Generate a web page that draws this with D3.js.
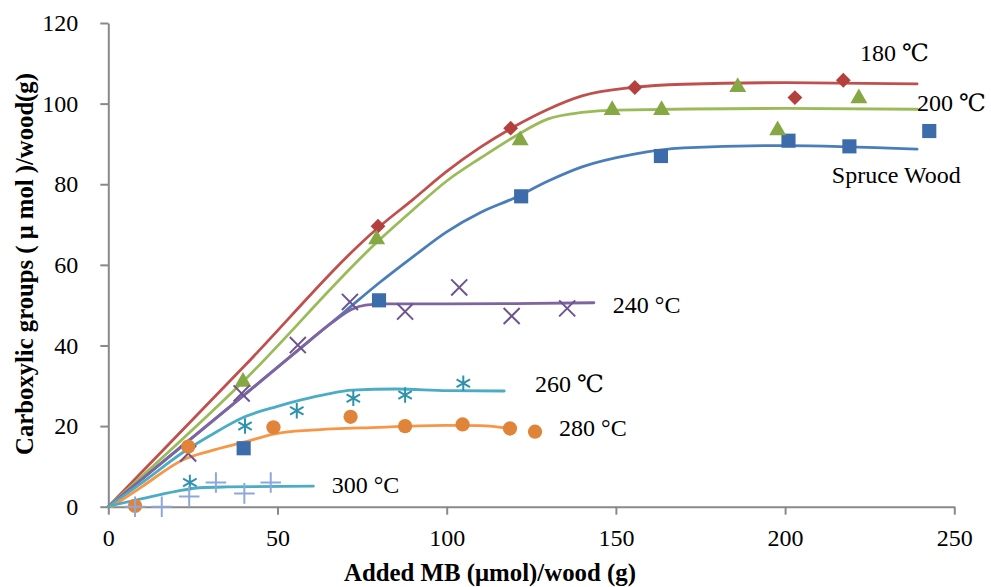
<!DOCTYPE html>
<html>
<head>
<meta charset="utf-8">
<script src="https://cdn.jsdelivr.net/npm/d3@7"></script>
<style>
  html, body { margin: 0; padding: 0; background: #fff; }
  svg { display: block; }
  text { font-family: "Liberation Serif", "DejaVu Serif", serif; fill: #000; }
</style>
</head>
<body>
<svg id="chart" width="991" height="587"></svg>
<script>
// Axis ticks
const xTicks = [0, 50, 100, 150, 200, 250];
const yTicks = [0, 20, 40, 60, 80, 100, 120];

// Measured points: added MB (µmol/g wood) vs carboxylic groups (µmol/g wood)
const spruceMB    = [40, 80, 122, 163.3, 201, 219, 242.6];
const spruceCOOH  = [14.5, 51.2, 77.0, 87.0, 90.8, 89.4, 93.2];
const t180MB      = [79.7, 118.9, 155.6, 202.9, 217.2];
const t180COOH    = [69.6, 93.9, 104.0, 101.5, 105.8];
const t200MB      = [39.8, 79.3, 121.7, 148.9, 163.5, 186, 197.8, 221.8];
const t200COOH    = [31.0, 66.3, 90.9, 98.4, 98.4, 104.1, 93.4, 101.3];
const t240MB      = [23.6, 39.4, 56, 71.4, 87.7, 103.7, 119.2, 135.6];
const t240COOH    = [13.2, 28.1, 40.1, 50.8, 48.4, 54.4, 47.3, 49.2];
const t260MB      = [24.1, 40.4, 55.7, 72.4, 87.7, 104.9];
const t260COOH    = [6.0, 20.0, 23.8, 26.9, 27.7, 30.6];
const t280MB      = [7.9, 23.6, 48.8, 71.6, 87.7, 104.7, 118.7, 126.1];
const t280COOH    = [0.2, 14.9, 19.7, 22.3, 20.0, 20.4, 19.4, 18.6];
const t300MB      = [7.9, 15.8, 23.9, 31.8, 40.2, 48];
const t300COOH    = [0, 0, 2.5, 6.0, 3.3, 6.0];

// Fitted trend curves
const spruceFitMB   = [0, 40, 70, 80, 90, 100, 110, 120, 130, 140, 155, 170, 200, 239];
const spruceFitCOOH = [0, 27.6, 48.5, 55.5, 62, 68.2, 73, 76.6, 80.8, 84.3, 87.4, 89, 89.6, 88.7];
const t180FitMB     = [0, 40, 80, 90, 100, 110, 120, 130, 140, 155, 170, 200, 239];
const t180FitCOOH   = [0, 34.7, 69.4, 76.2, 83.2, 89.2, 94.3, 98.6, 101.9, 104, 104.8, 105.2, 104.9];
const t200FitMB     = [0, 40, 80, 90, 100, 110, 120, 130, 140, 150, 200, 239];
const t200FitCOOH   = [0, 31.2, 66.1, 73.6, 80.8, 86.5, 91.8, 96.2, 97.8, 98.4, 98.8, 98.6];
const t240FitMB     = [0, 20, 40, 56, 66, 72, 76, 82, 100, 120, 143.5];
const t240FitCOOH   = [0, 13.8, 27.6, 38.8, 45.6, 49, 50, 50.3, 50.3, 50.4, 50.6];
const t260FitMB     = [0, 10, 23, 30, 40, 50, 57, 65, 72, 85, 100, 117];
const t260FitCOOH   = [0, 6, 14, 17.6, 22.2, 24.9, 26.5, 28, 28.9, 29.2, 28.8, 28.7];
const t280FitMB     = [1, 10, 22, 30, 40, 50, 60, 80, 100, 110, 118.7];
const t280FitCOOH   = [0, 5, 11.6, 13.8, 16, 18.2, 19, 19.7, 20.2, 20.1, 19.4];
const t300FitMB     = [1, 10, 20, 27, 35, 60.6];
const t300FitCOOH   = [0.3, 2, 3.8, 4.7, 4.9, 5.1];

// Curve labels and their anchor points in data units
const labelText = ["180 \u2103", "200 \u2103", "Spruce Wood", "240 \u00B0C", "260 \u2103", "280 \u00B0C", "300 \u00B0C"];
const labelMB   = [222.1, 239.0, 213.8, 149.1, 126.1, 133.2, 66.0];
const labelCOOH = [110.5, 98.1, 80.3, 48.0, 28.5, 17.6, 3.5];

const svg = d3.select("#chart");
const x = d3.scaleLinear().domain([0, 250]).range([108.3, 954.3]);
const y = d3.scaleLinear().domain([0, 120]).range([506.7, 23]);

const axisColor = "#898989";

// Axes
const gx = svg.append("g").attr("transform", `translate(0,${y(0)})`)
  .call(d3.axisBottom(x).tickValues(xTicks).tickSize(8).tickSizeOuter(0).tickPadding(14));
const gy = svg.append("g").attr("transform", `translate(${x(0)},0)`)
  .call(d3.axisLeft(y).tickValues(yTicks).tickSize(8).tickSizeOuter(0).tickPadding(22));
[gx, gy].forEach(g => {
  g.attr("font-family", null);
  g.select(".domain").attr("stroke", axisColor).attr("stroke-width", 2);
  g.selectAll(".tick line").attr("stroke", axisColor).attr("stroke-width", 2);
  g.selectAll(".tick text").attr("font-size", 24).attr("fill", "#000");
});
gx.selectAll(".tick text").attr("dy", "0.71em");

// Series definitions
const series = [
  { fx: spruceFitMB, fy: spruceFitCOOH, px: spruceMB, py: spruceCOOH, line: "#4a7ebb", mark: "#3d6cab", sym: "square" },
  { fx: t180FitMB,   fy: t180FitCOOH,   px: t180MB,   py: t180COOH,   line: "#c0504d", mark: "#b4403d", sym: "diamond" },
  { fx: t200FitMB,   fy: t200FitCOOH,   px: t200MB,   py: t200COOH,   line: "#9bbb59", mark: "#86a844", sym: "triangle" },
  { fx: t240FitMB,   fy: t240FitCOOH,   px: t240MB,   py: t240COOH,   line: "#8064a2", mark: "#6d5391", sym: "x" },
  { fx: t260FitMB,   fy: t260FitCOOH,   px: t260MB,   py: t260COOH,   line: "#4bacc6", mark: "#2f92ad", sym: "asterisk" },
  { fx: t280FitMB,   fy: t280FitCOOH,   px: t280MB,   py: t280COOH,   line: "#f79646", mark: "#e0843a", sym: "circle" },
  { fx: t300FitMB,   fy: t300FitCOOH,   px: t300MB,   py: t300COOH,   line: "#4bacc6", mark: "#8ea8d8", sym: "plus" }
];

const lineGen = d3.line().x(d => x(d[0])).y(d => y(d[1])).curve(d3.curveMonotoneX);

const linesG = svg.append("g");
series.forEach(s => {
  linesG.append("path")
    .datum(d3.zip(s.fx, s.fy))
    .attr("d", lineGen)
    .attr("fill", "none")
    .attr("stroke", s.line)
    .attr("stroke-width", 2.8)
    .attr("stroke-linecap", "round");
});

const symbolTypes = {
  square:   { type: d3.symbolSquare,   size: 200, fill: true,  rot: 0 },
  diamond:  { type: d3.symbolSquare,   size: 110, fill: true,  rot: 45 },
  triangle: { type: d3.symbolTriangle, size: 125, fill: true,  rot: 0 },
  circle:   { type: d3.symbolCircle,   size: 160, fill: true,  rot: 0 },
  x:        { type: d3.symbolX,        size: 170, fill: false, rot: 0 },
  asterisk: { type: d3.symbolAsterisk, size: 170, fill: false, rot: 0 },
  plus:     { type: d3.symbolPlus,     size: 140, fill: false, rot: 0 }
};

const marksG = svg.append("g");
series.forEach(s => {
  const st = symbolTypes[s.sym];
  const sym = d3.symbol().type(st.type).size(st.size);
  marksG.selectAll(null)
    .data(d3.zip(s.px, s.py))
    .join("path")
    .attr("transform", d => `translate(${x(d[0])},${y(d[1])}) rotate(${st.rot})`)
    .attr("d", sym)
    .attr("fill", st.fill ? s.mark : "none")
    .attr("stroke", s.mark)
    .attr("stroke-width", st.fill ? 0 : 2);
});

// Curve labels
svg.append("g").selectAll("text")
  .data(d3.zip(labelText, labelMB, labelCOOH))
  .join("text")
  .attr("x", d => x(d[1]))
  .attr("y", d => y(d[2]))
  .attr("font-size", 24)
  .text(d => d[0]);

// Axis titles, sized to span a given length
function fitText(sel, base, length) {
  sel.attr("font-size", base);
  const w = sel.node().getComputedTextLength();
  sel.attr("font-size", base * length / w);
}

const xTitle = svg.append("text")
  .attr("x", 490)
  .attr("y", 581)
  .attr("text-anchor", "middle")
  .attr("font-weight", "bold")
  .text("Added MB (\u03BCmol)/wood (g)");
fitText(xTitle, 24, 292);

const yTitle = svg.append("text")
  .attr("transform", `translate(33,264) rotate(-90)`)
  .attr("text-anchor", "middle")
  .attr("font-weight", "bold")
  .text("Carboxylic groups ( \u03BC mol )/wood(g)");
fitText(yTitle, 23.5, 382);
</script>
</body>
</html>
